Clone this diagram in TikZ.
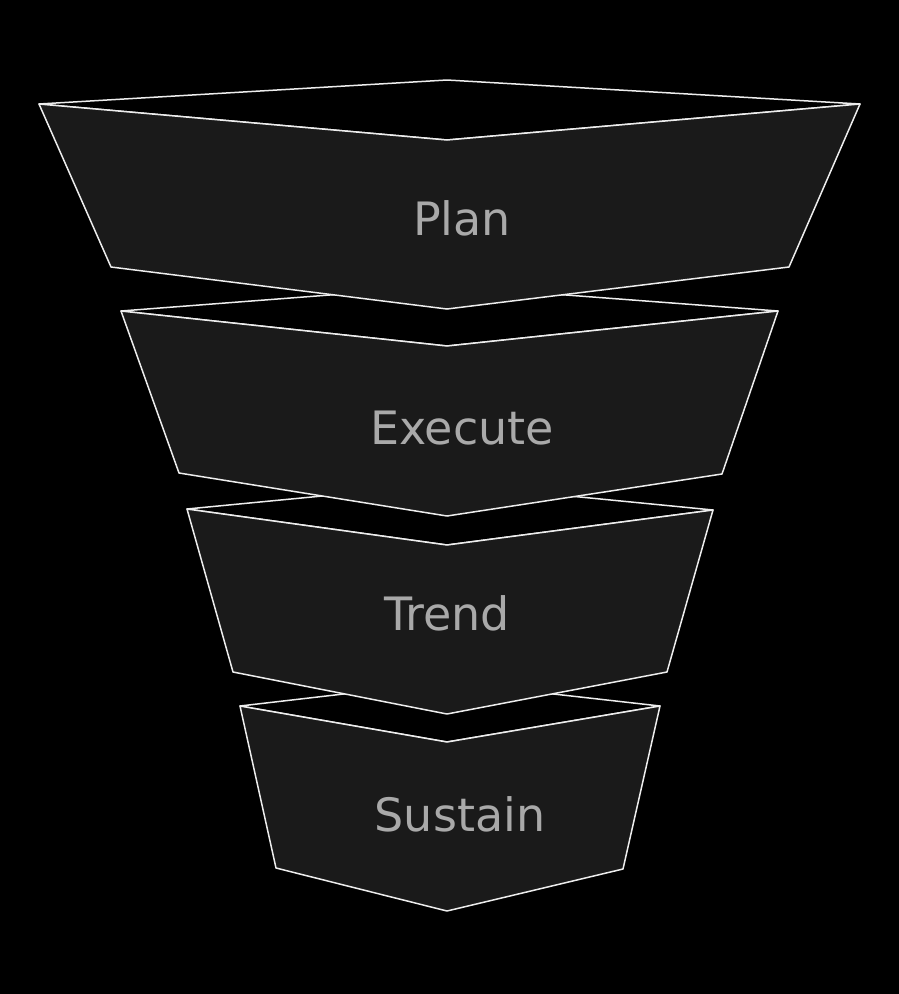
\documentclass[tikz,border=0pt]{standalone}
\usepackage{fontspec}
\setmainfont{DejaVu Sans}
\definecolor{facec}{HTML}{1A1A1A}
\definecolor{edgec}{HTML}{EDEDED}
\definecolor{textc}{HTML}{A9A9A9}
\begin{document}
\begin{tikzpicture}[x=1pt,y=-1pt,
  edge/.style={draw=edgec,line width=1.5pt,line join=round},
  face/.style={edge,fill=facec},
  rimface/.style={edge,fill=black},
  lbl/.style={text=textc,font=\fontsize{46}{46}\selectfont,anchor=base,inner sep=0pt}]
\fill[black] (0,0) rectangle (899,994);
\useasboundingbox (0,0) rectangle (899,994);
% Sustain
\path[rimface] (240,706) -- (447,682) -- (660,706) -- (447,742) -- cycle;
\path[face] (240,706) -- (447,742) -- (660,706) -- (623,869) -- (447,911) -- (276,868) -- cycle;
\node[lbl] (sustain) at (460,831) {Sustain};
% Trend
\path[rimface] (187,509) -- (447,484) -- (713,510) -- (447,545) -- cycle;
\path[face] (187,509) -- (447,545) -- (713,510) -- (667,672) -- (447,714) -- (233,672) -- cycle;
\node[lbl] (trend) at (447,630) {Trend};
% Execute
\path[rimface] (121,311) -- (447,286) -- (778,311) -- (447,346) -- cycle;
\path[face] (121,311) -- (447,346) -- (778,311) -- (722,474) -- (447,516) -- (179,473) -- cycle;
\node[lbl] (execute) at (462,444) {Execute};
% Plan
\path[rimface] (39,104) -- (447,80) -- (860,104) -- (447,140) -- cycle;
\path[face] (39,104) -- (447,140) -- (860,104) -- (789,267) -- (447,309) -- (111,267) -- cycle;
\node[lbl] (plan) at (462,235) {Plan};
\end{tikzpicture}
\end{document}
